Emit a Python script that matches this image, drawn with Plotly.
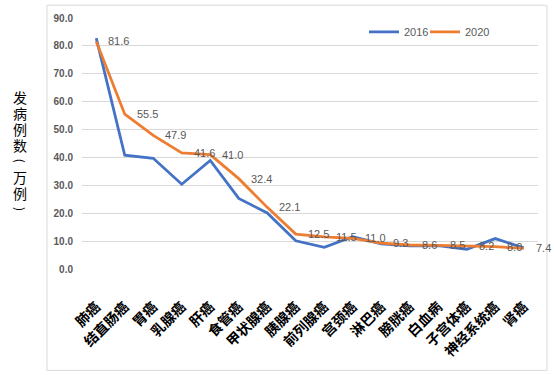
import plotly.graph_objects as go

categories = ["肺癌", "结直肠癌", "胃癌", "乳腺癌", "肝癌", "食管癌", "甲状腺癌", "胰腺癌",
              "前列腺癌", "宫颈癌", "淋巴癌", "膀胱癌", "白血病", "子宫体癌", "神经系统癌", "肾癌"]
values_2016 = [82.8, 40.8, 39.7, 30.4, 38.9, 25.3, 20.1, 10.1, 7.8, 11.6, 9.0, 8.3, 8.4, 7.1, 10.9, 7.6]
values_2020 = [81.6, 55.5, 47.9, 41.6, 41.0, 32.4, 22.1, 12.5, 11.5, 11.0, 9.3, 8.6, 8.5, 8.2, 8.0, 7.4]
y_ticks = [0, 10, 20, 30, 40, 50, 60, 70, 80, 90]
title_chars = ["发", "病", "例", "数", "(", "万", "例", ")"]

W, H = 554, 375
L, R, T, B = 82, 16, 14, 106
pw, ph = W - L - R, H - T - B


def px2x(px):
    return (px - L) / pw


def py2y(py):
    return (H - B - py) / ph


fig = go.Figure()
fig.add_trace(go.Scatter(x=categories, y=values_2016, mode="lines", name="2016",
                         line=dict(color="#4472C4", width=2.8), legend="legend"))
fig.add_trace(go.Scatter(x=categories, y=values_2020, mode="lines", name="2020",
                         line=dict(color="#ED7D31", width=2.8), legend="legend2"))

for c, v in zip(categories, values_2020):
    fig.add_annotation(x=c, y=v, text=f"{v:.1f}", showarrow=False,
                       xanchor="left", yanchor="middle", xshift=10,
                       font=dict(family="Liberation Sans, Arial", size=11, color="#595959"))

fig.add_shape(type="rect", xref="paper", yref="paper",
              x0=px2x(47), x1=px2x(547), y0=py2y(372), y1=py2y(1),
              line=dict(color="#d9d9d9", width=1), layer="below")

title_y = [94, 111, 127, 143, 159, 176, 192, 208]
for ch, yy in zip(title_chars, title_y):
    paren = ch in "()"
    fig.add_annotation(xref="paper", yref="paper", x=px2x(20), y=py2y(yy),
                       text=ch, showarrow=False, xanchor="center", yanchor="middle",
                       textangle=90 if paren else 0,
                       font=dict(family="Noto Sans CJK SC", size=14 if not paren else 12, color="#000000"))

legend_font = dict(family="Liberation Sans, Arial", size=11, color="#595959")
fig.update_layout(
    width=W, height=H,
    margin=dict(l=L, r=R, t=T, b=B),
    paper_bgcolor="white", plot_bgcolor="white",
    showlegend=True,
    legend=dict(orientation="h", x=px2x(364), y=py2y(28), xanchor="left", yanchor="middle",
                font=legend_font, bgcolor="rgba(0,0,0,0)"),
    legend2=dict(orientation="h", x=px2x(425), y=py2y(28), xanchor="left", yanchor="middle",
                 font=legend_font, bgcolor="rgba(0,0,0,0)"),
    xaxis=dict(type="category", range=[-0.5, 15.5], tickangle=-45,
               showgrid=False, zeroline=False, showline=False, ticks="", ticklabelstandoff=26,
               tickfont=dict(family="Noto Sans CJK SC", size=14, color="#000000", weight="bold")),
    yaxis=dict(range=[0, 90], tickvals=y_ticks, tickformat=".1f",
               showgrid=True, gridcolor="#d9d9d9", gridwidth=1, zeroline=False, showline=False,
               ticks="", ticklabelstandoff=8,
               tickfont=dict(family="Liberation Sans, Arial", size=10, color="#595959", weight="bold")),
)

fig.write_html("out.html", config={"displayModeBar": False},
               post_script="document.body.style.margin='0';document.body.style.overflow='hidden';")
